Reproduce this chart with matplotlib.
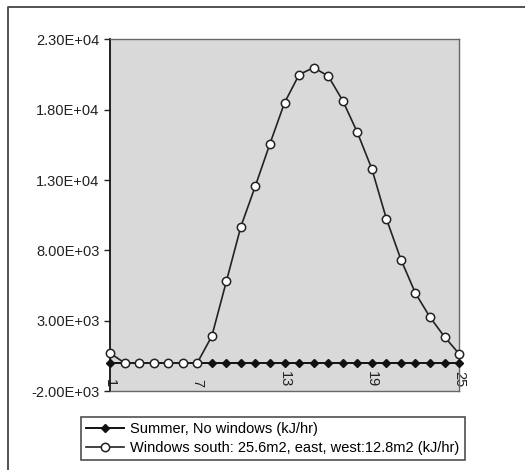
import numpy as np
import matplotlib.pyplot as plt
from matplotlib.lines import Line2D

hours = list(range(1, 26))
no_windows = [0] * 25
with_windows = [700, 0, 0, 0, 0, 0, 0, 1900, 5800, 9700, 12600, 15600, 18500,
                20500, 21000, 20400, 18650, 16400, 13800, 10250, 7350, 4950,
                3250, 1850, 650]

y_ticks = [-2000, 3000, 8000, 13000, 18000, 23000]
y_labels = ["-2.00E+03", "3.00E+03", "8.00E+03", "1.30E+04", "1.80E+04", "2.30E+04"]
x_ticks = [1, 7, 13, 19, 25]

label_no = "Summer, No windows (kJ/hr)"
label_win = "Windows south: 25.6m2, east, west:12.8m2 (kJ/hr)"

plt.rcParams["font.family"] = ["Liberation Sans", "DejaVu Sans"]
plt.rcParams["font.size"] = 10

fig = plt.figure(figsize=(5.25, 4.7), dpi=100)
ax = fig.add_axes([0.2095, 0.168, 0.665, 0.748])
ax.set_facecolor("#d9d9d9")

# outer chart frame: only the top and left edges survive in the scan
fig.lines.append(Line2D([8 / 525, 8 / 525, 1.0], [0.0, 1 - 7 / 470, 1 - 7 / 470],
                        transform=fig.transFigure, color="#444444", lw=1.3))

ax.plot(hours, no_windows, color="#111111", lw=1.4, marker="D", ms=4.5,
        mfc="#111111", mec="#111111", label=label_no, zorder=3, clip_on=False)
ax.plot(hours, with_windows, color="#222222", lw=1.2, marker="o", ms=6,
        mfc="white", mec="#222222", mew=1.1, label=label_win, zorder=4,
        clip_on=False)

ax.set_xlim(1, 25)
ax.set_ylim(-2000, 23000)
ax.set_yticks(y_ticks)
ax.set_yticklabels(y_labels)
ax.set_xticks(x_ticks)
ax.set_xticklabels([str(t) for t in x_ticks], rotation=-90)
for lab in ax.get_xticklabels():
    lab.set_va("bottom")
ax.tick_params(axis="x", length=0, pad=-3, labelsize=10.5, colors="#222222")
ax.tick_params(axis="y", length=4, width=1, colors="#222222", labelsize=10.5)

for side in ["top", "right", "bottom"]:
    ax.spines[side].set_color("#666666")
    ax.spines[side].set_linewidth(1.0)
ax.spines["left"].set_color("#111111")
ax.spines["left"].set_linewidth(1.3)

leg = fig.legend(loc="center", bbox_to_anchor=(0.52, 0.067), ncol=1,
                 frameon=True, fancybox=False, edgecolor="#222222",
                 handlelength=2.6, handletextpad=0.4, borderpad=0.35,
                 labelspacing=0.3, fontsize=10.5)
leg.get_frame().set_linewidth(1.2)

fig.savefig("out.png", dpi=100)
